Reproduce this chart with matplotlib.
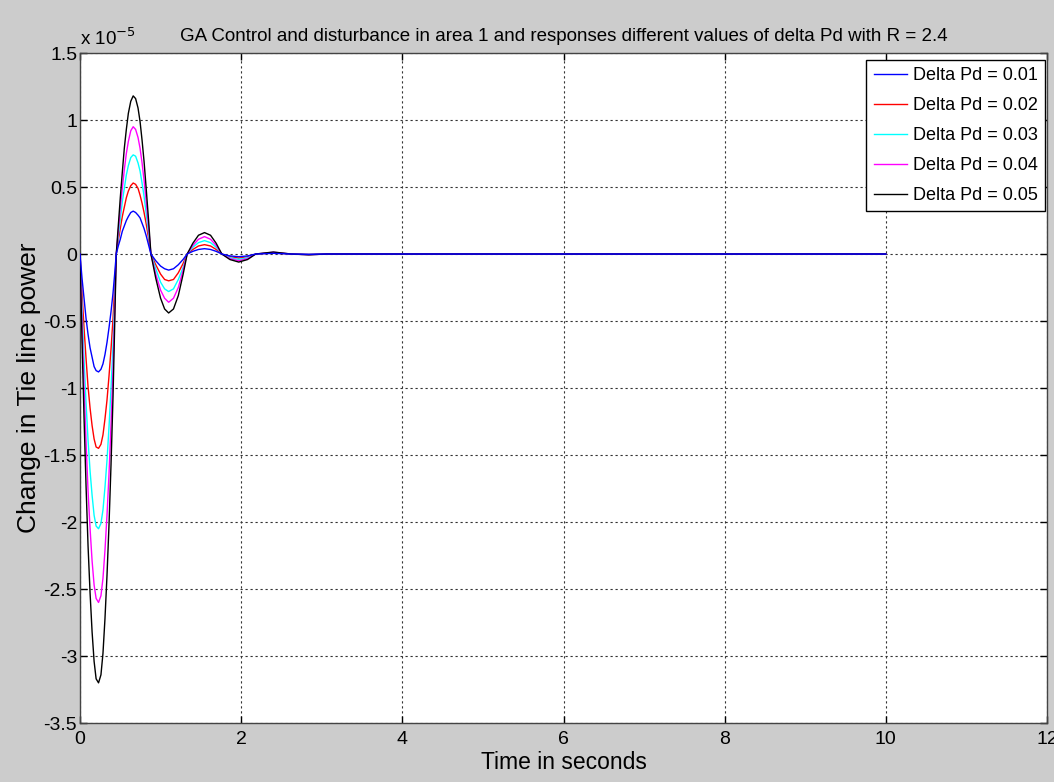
import matplotlib
matplotlib.use("Agg")
import matplotlib.pyplot as plt

plt.rcParams['font.family'] = ['Liberation Sans', 'DejaVu Sans']

# time samples (s)
t = [0, 0.025, 0.05, 0.075, 0.1, 0.125, 0.15, 0.175, 0.2, 0.23, 0.26, 0.285,
     0.31, 0.335, 0.36, 0.385, 0.41, 0.43, 0.45,
     0.475, 0.5, 0.525, 0.55, 0.575, 0.6, 0.63, 0.66, 0.69, 0.72, 0.745,
     0.77, 0.795, 0.82, 0.85, 0.88,
     0.94, 1.0, 1.05, 1.1, 1.16, 1.22, 1.28, 1.33,
     1.4, 1.47, 1.545, 1.62, 1.69, 1.76,
     1.86, 1.97, 2.08, 2.18,
     2.4, 2.62,
     2.84, 3.06, 10]

# change in tie line power, units of 1e-5
pd_001 = [0, -0.18, -0.33, -0.48, -0.60, -0.70, -0.77, -0.84, -0.87, -0.88, -0.86, -0.82,
          -0.75, -0.66, -0.55, -0.43, -0.29, -0.15, 0,
          0.06, 0.11, 0.17, 0.21, 0.25, 0.28, 0.31, 0.32, 0.31, 0.29, 0.27,
          0.23, 0.19, 0.14, 0.07, 0,
          -0.05, -0.09, -0.11, -0.12, -0.11, -0.08, -0.04, 0,
          0.02, 0.034, 0.04, 0.034, 0.02, 0,
          -0.014, -0.02, -0.014, 0,
          0.005, 0,
          -0.002, 0, 0]
pd_002 = [0, -0.29, -0.55, -0.78, -0.99, -1.15, -1.28, -1.38, -1.44, -1.45, -1.42, -1.35,
          -1.23, -1.09, -0.91, -0.71, -0.48, -0.25, 0,
          0.10, 0.19, 0.28, 0.35, 0.42, 0.47, 0.51, 0.53, 0.52, 0.49, 0.44,
          0.38, 0.31, 0.23, 0.12, 0,
          -0.08, -0.15, -0.19, -0.20, -0.19, -0.14, -0.07, 0,
          0.034, 0.06, 0.07, 0.06, 0.034, 0,
          -0.02, -0.03, -0.02, 0,
          0.008, 0,
          -0.003, 0, 0]
pd_003 = [0, -0.41, -0.78, -1.11, -1.39, -1.62, -1.80, -1.95, -2.03, -2.05, -2.01, -1.91,
          -1.74, -1.54, -1.29, -1.00, -0.68, -0.35, 0,
          0.13, 0.26, 0.39, 0.49, 0.59, 0.66, 0.72, 0.74, 0.73, 0.68, 0.62,
          0.53, 0.43, 0.31, 0.16, 0,
          -0.11, -0.21, -0.26, -0.28, -0.26, -0.19, -0.10, 0,
          0.05, 0.085, 0.10, 0.085, 0.05, 0,
          -0.027, -0.04, -0.027, 0,
          0.011, 0,
          -0.004, 0, 0]
pd_004 = [0, -0.52, -0.99, -1.40, -1.77, -2.05, -2.29, -2.47, -2.57, -2.60, -2.55, -2.42,
          -2.21, -1.95, -1.64, -1.27, -0.86, -0.44, 0,
          0.17, 0.34, 0.49, 0.63, 0.75, 0.84, 0.92, 0.95, 0.93, 0.87, 0.79,
          0.68, 0.55, 0.40, 0.21, 0,
          -0.15, -0.27, -0.33, -0.36, -0.33, -0.25, -0.12, 0,
          0.064, 0.11, 0.13, 0.11, 0.064, 0,
          -0.034, -0.05, -0.034, 0,
          0.013, 0,
          -0.005, 0, 0]
pd_005 = [0, -0.64, -1.22, -1.73, -2.18, -2.53, -2.82, -3.04, -3.17, -3.20, -3.14, -2.98,
          -2.72, -2.40, -2.02, -1.57, -1.06, -0.54, 0,
          0.21, 0.42, 0.61, 0.79, 0.93, 1.05, 1.14, 1.18, 1.16, 1.09, 0.99,
          0.85, 0.69, 0.50, 0.26, 0,
          -0.18, -0.33, -0.41, -0.44, -0.41, -0.31, -0.15, 0,
          0.08, 0.14, 0.16, 0.14, 0.08, 0,
          -0.041, -0.06, -0.041, 0,
          0.015, 0,
          -0.006, 0, 0]

series = [pd_001, pd_002, pd_003, pd_004, pd_005]
labels = ['Delta Pd = 0.01', 'Delta Pd = 0.02', 'Delta Pd = 0.03',
          'Delta Pd = 0.04', 'Delta Pd = 0.05']
colors = ['#0000ff', '#ff0000', '#00ffff', '#ff00ff', '#000000']
zorders = [7, 3, 4, 5, 6]
yticks = [1.5, 1, 0.5, 0, -0.5, -1, -1.5, -2, -2.5, -3, -3.5]
ytick_labels = ['1.5', '1', '0.5', '0', '-0.5', '-1', '-1.5', '-2', '-2.5', '-3', '-3.5']

fig = plt.figure(figsize=(10.54, 7.82), dpi=100, facecolor='#cccccc')
ax = fig.add_axes([0.0759, 0.0754, 0.9175, 0.8568])
ax.set_facecolor('white')

for y, lab, c, z in zip(series, labels, colors, zorders):
    ax.plot(t, y, color=c, lw=1.0, label=lab, zorder=z)

ax.set_xlim(0, 12)
ax.set_ylim(-3.5, 1.5)
ax.set_xticks(range(0, 13, 2))
ax.set_yticks(yticks)
ax.set_yticklabels(ytick_labels)
ax.tick_params(direction='in', length=5, width=1, top=True, right=True,
               labelsize=14, colors='black')
ax.tick_params(axis='x', pad=6)
ax.tick_params(axis='y', pad=2)
ax.grid(True, color='#333333', linestyle=(0, (2, 2.5)), linewidth=0.8)
for s in ax.spines.values():
    s.set_color('#444444')
    s.set_linewidth(1)

ax.text(0, 1.006, r'x 10$^{-5}$', transform=ax.transAxes, ha='left', va='bottom',
        fontsize=13.5)
ax.set_title('GA Control and disturbance in area 1 and responses different values of delta Pd with R = 2.4',
             fontsize=13.5, pad=9)
ax.set_xlabel('Time in seconds', fontsize=16.5, labelpad=2)
ax.set_ylabel('Change in Tie line power', fontsize=19, labelpad=2)

leg = ax.legend(loc='upper right', bbox_to_anchor=(0.9975, 0.99), fontsize=13,
                fancybox=False, framealpha=1, edgecolor='black',
                handlelength=1.85, handletextpad=0.3, labelspacing=0.72,
                borderpad=0.4, borderaxespad=0)
leg.get_frame().set_linewidth(1)
leg.set_zorder(10)

fig.savefig('out.png', dpi=100, facecolor=fig.get_facecolor())
